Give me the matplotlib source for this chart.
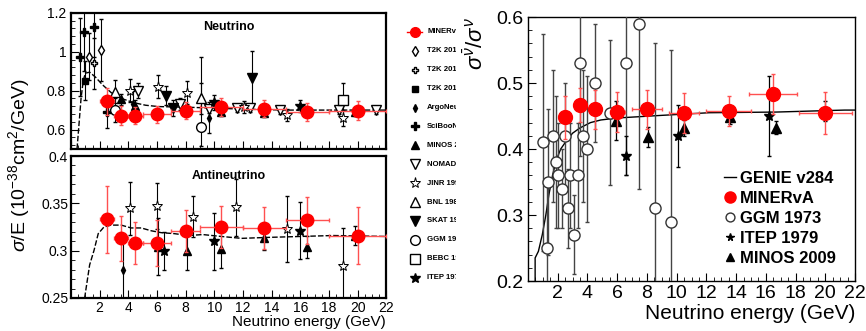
import matplotlib
matplotlib.use("Agg")
import matplotlib.pyplot as plt
from matplotlib.ticker import MultipleLocator
import numpy as np

plt.rcParams['font.family'] = ['Liberation Sans', 'DejaVu Sans']
plt.rcParams['mathtext.fontset'] = 'custom'
plt.rcParams['mathtext.rm'] = 'Liberation Sans'
plt.rcParams['mathtext.it'] = 'Liberation Sans:italic'

"""
data read off the picture
"""
# MINERvA bins (same for all panels)
minerva_e = [2.5, 3.5, 4.5, 6, 8, 10.5, 13.5, 16.5, 20]
minerva_xerr = [0.5, 0.5, 0.5, 1, 1, 1.5, 1.5, 1.5, 2]

# neutrino sigma/E
nu_minerva = [0.745, 0.672, 0.672, 0.678, 0.697, 0.716, 0.708, 0.690, 0.697]
nu_minerva_err = [0.07, 0.05, 0.045, 0.045, 0.045, 0.045, 0.045, 0.045, 0.05]
nu_genie_e = [0.42, 0.55, 0.7, 0.85, 1.0, 1.3, 1.7, 2.2, 2.8, 3.5, 4.4, 5.2, 6.1, 8, 10, 12, 15, 18, 22]
nu_genie = [0.5, 0.62, 0.76, 0.85, 0.89, 0.895, 0.87, 0.83, 0.79, 0.76, 0.738, 0.725, 0.718,
            0.715, 0.71, 0.705, 0.70, 0.70, 0.70]
nu_t2k15_e, nu_t2k15, nu_t2k15_err = [1.25, 2.1], [0.975, 1.01], [0.12, 0.16]
nu_t2k14_e, nu_t2k14, nu_t2k14_err = [1.6], [0.94], [0.13]
nu_t2k13_e, nu_t2k13, nu_t2k13_err = [1.0], [0.85], [0.1]
nu_argo_e, nu_argo, nu_argo_err = [4.3, 9.6], [0.73, 0.66], [0.07, 0.08]
nu_sciboone_e = [0.6, 0.9, 1.6, 2.5]
nu_sciboone = [0.975, 1.10, 1.125, 0.69]
nu_sciboone_err = [0.2, 0.2, 0.15, 0.08]
nu_minos_e = [3.5, 4.5, 10.5, 13.5, 19.8]
nu_minos = [0.755, 0.72, 0.69, 0.685, 0.69]
nu_minos_err = [0.03, 0.03, 0.02, 0.02, 0.02]
nu_nomad_e = [4.7, 7.6, 9.6, 11.6, 12.5, 14.6, 18.7, 21.3]
nu_nomad = [0.80, 0.73, 0.705, 0.71, 0.71, 0.70, 0.70, 0.70]
nu_nomad_err = [0.04, 0.03, 0.02, 0.02, 0.02, 0.02, 0.02, 0.02]
nu_jinr_e = [4.1, 6.1, 8.1, 12.1, 15.1, 19.0]
nu_jinr = [0.80, 0.82, 0.79, 0.715, 0.675, 0.66]
nu_jinr_err = [0.06, 0.06, 0.06, 0.03, 0.03, 0.04]
nu_bnl_e, nu_bnl, nu_bnl_err = [3.1, 9.1], [0.795, 0.76], [0.06, 0.08]
nu_skat_e, nu_skat, nu_skat_err = [6.6, 7.1, 12.6], [0.775, 0.71, 0.865], [0.05, 0.04, 0.14]
nu_ggm_e, nu_ggm = [3.1, 9.1], [0.70, 0.615]
nu_ggm_lo, nu_ggm_hi = [0.06, 0.1], [0.06, 0.36]
nu_bebc_e, nu_bebc, nu_bebc_err = [19.0], [0.75], [0.09]
nu_itep_e, nu_itep, nu_itep_err = [10.0, 16.0], [0.74, 0.72], [0.04, 0.03]

# antineutrino sigma/E
nub_minerva = [0.333, 0.313, 0.308, 0.308, 0.321, 0.325, 0.324, 0.332, 0.316]
nub_minerva_err = [0.035, 0.024, 0.022, 0.024, 0.022, 0.022, 0.022, 0.025, 0.03]
nub_genie_e = [0.95, 1.1, 1.3, 1.6, 1.9, 2.3, 2.8, 3.5, 4.2, 4.9, 5.6, 6.3, 7.2, 8.2, 9.2,
               10.5, 11.9, 13.7, 16, 18.3, 22]
nub_genie = [0.25, 0.265, 0.285, 0.30, 0.318, 0.325, 0.327, 0.327, 0.324, 0.324, 0.321, 0.319,
             0.318, 0.316, 0.317, 0.315, 0.313, 0.314, 0.315, 0.316, 0.315]
nub_argo_e, nub_argo, nub_argo_err = [3.6], [0.28], [0.03]
nub_jinr_e = [4.1, 6.0, 8.5, 11.5, 15.1, 19.0]
nub_jinr = [0.345, 0.347, 0.336, 0.346, 0.323, 0.284]
nub_jinr_err = [0.028, 0.024, 0.022, 0.03, 0.035, 0.04]
nub_itep_e, nub_itep, nub_itep_err = [6.5, 10.0, 16.0], [0.30, 0.31, 0.321], [0.02, 0.03, 0.03]
nub_minos_e = [6.1, 8.1, 10.5, 13.5, 16.5, 19.8]
nub_minos = [0.304, 0.30, 0.302, 0.313, 0.304, 0.316]
nub_minos_err = [0.03, 0.02, 0.02, 0.012, 0.012, 0.01]

# ratio panel
r_minerva = [0.448, 0.467, 0.46, 0.456, 0.46, 0.455, 0.458, 0.483, 0.454]
r_minerva_err = [0.033, 0.026, 0.03, 0.03, 0.029, 0.03, 0.023, 0.03, 0.032]
r_minerva_xerr = [0.3, 0.3, 0.4, 0.5, 1.0, 1.0, 1.5, 1.6, 1.8]
r_genie_e = [0.48, 0.48, 0.7, 0.96, 1.2, 1.4, 1.65, 1.9, 2.2, 2.6, 3.0, 3.5, 4.2, 4.9, 6,
             7.5, 9, 12.2, 16.7, 21.3, 22]
r_genie = [0.2, 0.235, 0.245, 0.27, 0.30, 0.33, 0.36, 0.383, 0.40, 0.413, 0.424, 0.432, 0.44,
           0.444, 0.447, 0.449, 0.451, 0.455, 0.456, 0.459, 0.459]
r_ggm_e = [1.03, 1.3, 1.37, 1.65, 1.9, 2.05, 2.3, 2.47, 2.7, 2.8, 3.1, 3.35, 3.5, 3.7, 3.95,
           4.5, 5.5, 6.6, 7.5, 8.55, 9.6]
r_ggm = [0.41, 0.25, 0.35, 0.42, 0.38, 0.36, 0.34, 0.42, 0.31, 0.36, 0.27, 0.36, 0.53, 0.42,
         0.40, 0.50, 0.455, 0.53, 0.59, 0.31, 0.29]
r_ggm_err = [0.165, 0.1, 0.11, 0.1, 0.1, 0.08, 0.06, 0.08, 0.06, 0.08, 0.06, 0.08, 0.14, 0.1,
             0.11, 0.09, 0.11, 0.17, 0.25, 0.25, 0.26]
r_itep_e, r_itep, r_itep_err = [6.6, 10.1, 16.2], [0.39, 0.42, 0.45], [0.03, 0.047, 0.06]
r_minos_e = [5.9, 8.1, 10.5, 13.6, 16.7, 20.0]
r_minos = [0.443, 0.418, 0.432, 0.448, 0.432, 0.458]
r_minos_err = [0.03, 0.015, 0.012, 0.01, 0.01, 0.015]

legend_names = ["MINERvA", "T2K 2015", "T2K 2014", "T2K 2013", "ArgoNeuT", "SciBooNE",
                "MINOS 2009", "NOMAD 2009", "JINR 1996", "BNL 1980", "SKAT 1979",
                "GGM 1979", "BEBC 1979", "ITEP 1979"]

"""
styles
"""
sty = {
    "t2k15": dict(marker='d', mfc='white', mec='k', ms=5),
    "t2k14": dict(marker='P', mfc='white', mec='k', ms=5),
    "t2k13": dict(marker='s', mfc='k', mec='k', ms=5),
    "argo": dict(marker='d', mfc='k', mec='k', ms=4),
    "sciboone": dict(marker='P', mfc='k', mec='k', ms=6),
    "minos": dict(marker='^', mfc='k', mec='k', ms=6),
    "nomad": dict(marker='v', mfc='white', mec='k', ms=7),
    "jinr": dict(marker='*', mfc='white', mec='k', ms=8, mew=0.7),
    "bnl": dict(marker='^', mfc='white', mec='k', ms=7),
    "skat": dict(marker='v', mfc='k', mec='k', ms=7),
    "ggm": dict(marker='o', mfc='white', mec='k', ms=7),
    "bebc": dict(marker='s', mfc='white', mec='k', ms=7),
    "itep": dict(marker='*', mfc='k', mec='k', ms=7),
}
red = '#ff0000'


def pts(ax, e, v, err, key, ecolor='k'):
    ax.errorbar(e, v, yerr=err, fmt='none', ecolor=ecolor, elinewidth=0.8, capsize=1.2, zorder=3)
    ax.plot(e, v, ls='none', zorder=4, **sty[key])


def minerva(ax, v, err, xerr, ms=11):
    ax.errorbar(minerva_e, v, yerr=err, xerr=xerr, fmt='o', color=red, ms=ms, mec=red,
                ecolor='#ff5050', elinewidth=1.0, capsize=1.5, zorder=6)


def root_axes(ax, lw):
    for s in ax.spines.values():
        s.set_linewidth(lw)
    ax.tick_params(which='both', direction='in', top=False, right=False)
    ax.tick_params(which='major', length=6)
    ax.tick_params(which='minor', length=3)


fig = plt.figure(figsize=(8.66, 3.31), dpi=100)

# ---- neutrino panel
ax1 = fig.add_axes([0.082, 0.55, 0.364, 0.411])
ax1.plot(nu_genie_e, nu_genie, 'k--', lw=1.0, dashes=(4, 1.5), zorder=2)
pts(ax1, nu_t2k15_e, nu_t2k15, nu_t2k15_err, "t2k15")
pts(ax1, nu_t2k14_e, nu_t2k14, nu_t2k14_err, "t2k14")
pts(ax1, nu_t2k13_e, nu_t2k13, nu_t2k13_err, "t2k13")
pts(ax1, nu_argo_e, nu_argo, nu_argo_err, "argo")
pts(ax1, nu_sciboone_e, nu_sciboone, nu_sciboone_err, "sciboone")
pts(ax1, nu_minos_e, nu_minos, nu_minos_err, "minos")
pts(ax1, nu_nomad_e, nu_nomad, nu_nomad_err, "nomad")
pts(ax1, nu_jinr_e, nu_jinr, nu_jinr_err, "jinr")
pts(ax1, nu_bnl_e, nu_bnl, nu_bnl_err, "bnl")
pts(ax1, nu_skat_e, nu_skat, nu_skat_err, "skat")
pts(ax1, nu_ggm_e, nu_ggm, [nu_ggm_lo, nu_ggm_hi], "ggm")
pts(ax1, nu_bebc_e, nu_bebc, nu_bebc_err, "bebc")
pts(ax1, nu_itep_e, nu_itep, nu_itep_err, "itep")
minerva(ax1, nu_minerva, nu_minerva_err, minerva_xerr, ms=9)
ax1.set_xlim(0, 22)
ax1.set_ylim(0.5, 1.2)
ax1.yaxis.set_major_locator(MultipleLocator(0.2))
ax1.yaxis.set_minor_locator(MultipleLocator(0.04))
ax1.xaxis.set_major_locator(MultipleLocator(2))
ax1.xaxis.set_minor_locator(MultipleLocator(0.5))
ax1.set_xticklabels([])
ax1.set_yticks([0.6, 0.8, 1.0, 1.2])
ax1.set_yticklabels(["0.6", "0.8", "1", "1.2"])
root_axes(ax1, 1.6)
ax1.tick_params(labelsize=10)
ax1.text(0.5, 0.94, "Neutrino", transform=ax1.transAxes, ha='center', va='top',
         fontsize=9, fontweight='bold')

# ---- antineutrino panel
ax2 = fig.add_axes([0.082, 0.0997, 0.364, 0.429])
ax2.plot(nub_genie_e, nub_genie, 'k--', lw=1.0, dashes=(4, 1.5), zorder=2)
pts(ax2, nub_argo_e, nub_argo, nub_argo_err, "argo")
pts(ax2, nub_jinr_e, nub_jinr, nub_jinr_err, "jinr")
pts(ax2, nub_itep_e, nub_itep, nub_itep_err, "itep")
pts(ax2, nub_minos_e, nub_minos, nub_minos_err, "minos")
minerva(ax2, nub_minerva, nub_minerva_err, minerva_xerr, ms=9)
ax2.set_xlim(0, 22)
ax2.set_ylim(0.25, 0.4)
ax2.yaxis.set_major_locator(MultipleLocator(0.05))
ax2.yaxis.set_minor_locator(MultipleLocator(0.01))
ax2.xaxis.set_major_locator(MultipleLocator(2))
ax2.xaxis.set_minor_locator(MultipleLocator(0.5))
ax2.set_xticks([2, 4, 6, 8, 10, 12, 14, 16, 18, 20, 22])
ax2.set_yticks([0.25, 0.3, 0.35, 0.4])
ax2.set_yticklabels(["0.25", "0.3", "0.35", "0.4"])
root_axes(ax2, 1.6)
ax2.tick_params(labelsize=10, pad=2)
ax2.text(0.5, 0.9, "Antineutrino", transform=ax2.transAxes, ha='center', va='top',
         fontsize=9, fontweight='bold')
ax2.set_xlabel("Neutrino energy (GeV)", fontsize=11, loc='right', labelpad=0)
fig.text(0.022, 0.5, r"$\sigma$/E (10$^{-38}$cm$^2$/GeV)", rotation=90, ha='center',
         va='center', fontsize=14)

# ---- legend column of left figure, clipped on the right
axl = fig.add_axes([400 / 866, 1 - 290 / 331, 56 / 866, 270 / 331])
axl.set_xlim(0, 56)
axl.set_ylim(290, 20)
axl.axis('off')
leg_keys = [None, "t2k15", "t2k14", "t2k13", "argo", "sciboone", "minos", "nomad", "jinr",
            "bnl", "skat", "ggm", "bebc", "itep"]
for i, (name, key) in enumerate(zip(legend_names, leg_keys)):
    y = 32 + i * 18.9
    if key is None:
        axl.plot([7, 22], [y, y], color=red, lw=1, clip_on=True)
        axl.plot([14.5], [y], 'o', color=red, ms=7, clip_on=True)
    else:
        axl.plot([14.5], [y], ls='none', clip_on=True, **sty[key])
    axl.text(27, y, name, fontsize=5.6, fontweight='bold', va='center', ha='left',
             clip_on=True)

# ---- ratio panel
ax3 = fig.add_axes([0.6097, 0.151, 0.3776, 0.7976])
l_genie, = ax3.plot(r_genie_e, r_genie, color='k', lw=1.0, zorder=2, label="GENIE v284")
ax3.errorbar(r_ggm_e, r_ggm, yerr=r_ggm_err, fmt='none', ecolor='#444444', elinewidth=1.0,
             capsize=1.5, zorder=3)
l_ggm, = ax3.plot(r_ggm_e, r_ggm, 'o', mfc='white', mec='#333333', ms=8, zorder=4,
                  label="GGM 1973")
ax3.errorbar(r_itep_e, r_itep, yerr=r_itep_err, fmt='none', ecolor='k', elinewidth=0.9,
             capsize=1.5, zorder=3)
l_itep, = ax3.plot(r_itep_e, r_itep, '*', color='k', ms=7, zorder=4, label="ITEP 1979")
ax3.errorbar(r_minos_e, r_minos, yerr=r_minos_err, fmt='none', ecolor='k', elinewidth=0.9,
             capsize=1.5, zorder=3)
l_minos, = ax3.plot(r_minos_e, r_minos, '^', color='k', ms=7, zorder=4, label="MINOS 2009")
ax3.errorbar(minerva_e, r_minerva, yerr=r_minerva_err, xerr=r_minerva_xerr, fmt='o',
             color=red, ms=10, ecolor='#ff5050', elinewidth=1.0, capsize=1.5, zorder=6)
l_min, = ax3.plot([], [], 'o', color=red, ms=10, label="MINERvA")
ax3.set_xlim(0, 22)
ax3.set_ylim(0.2, 0.6)
ax3.xaxis.set_major_locator(MultipleLocator(2))
ax3.xaxis.set_minor_locator(MultipleLocator(0.5))
ax3.set_xticks([2, 4, 6, 8, 10, 12, 14, 16, 18, 20, 22])
ax3.yaxis.set_major_locator(MultipleLocator(0.1))
ax3.yaxis.set_minor_locator(MultipleLocator(0.02))
root_axes(ax3, 1.0)
ax3.tick_params(labelsize=14, pad=3)
ax3.set_xlabel("Neutrino energy (GeV)", fontsize=15, loc='right', labelpad=1)
ax3.set_ylabel(r"$\sigma^{\bar{\nu}}/\sigma^{\nu}$", fontsize=16, loc='top', labelpad=6)
ax3.legend(handles=[l_genie, l_min, l_ggm, l_itep, l_minos], loc='lower left',
           bbox_to_anchor=(0.57, 0.02), frameon=False, handlelength=0.7, handletextpad=0.25,
           labelspacing=0.3, borderaxespad=0.2, markerscale=0.8,
           prop=dict(weight='bold', size=12))

fig.savefig("out.png", dpi=100)
